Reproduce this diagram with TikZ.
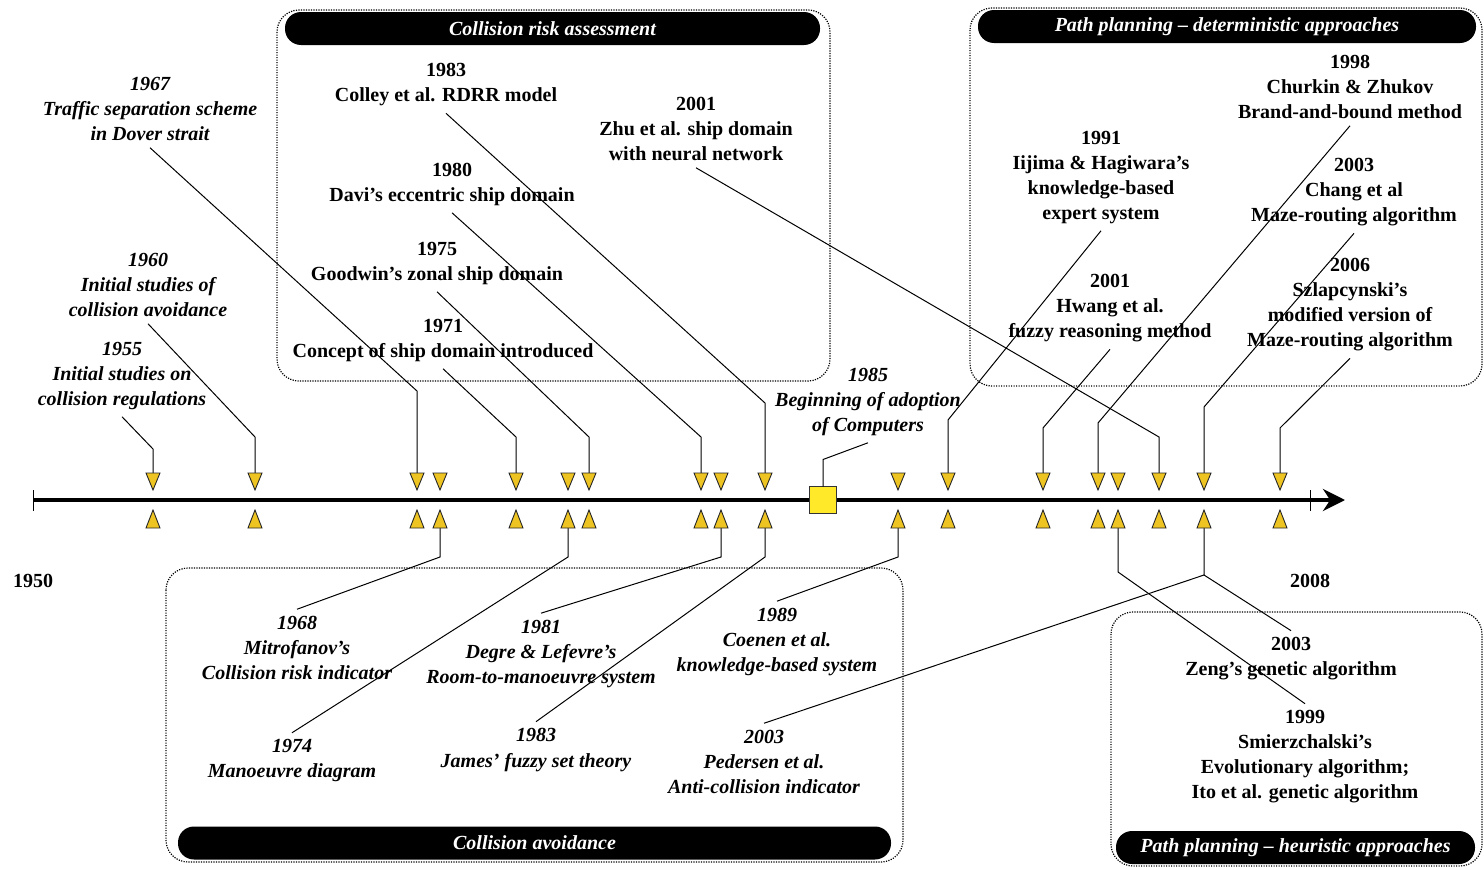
\documentclass[tikz,border=0pt]{standalone}
\usepackage{fontspec}
\setmainfont{Liberation Serif}[Ligatures={ResetAll,Common}]
\usepackage{tikz}
\usetikzlibrary{arrows.meta,positioning,calc}

\definecolor{markgold}{RGB}{238,196,34}
\definecolor{compyel}{RGB}{255,233,40}

\tikzset{
  txt/.style={align=center,font=\bfseries\fontsize{20}{25}\selectfont,inner sep=2pt,outer sep=5pt},
  itxt/.style={txt,font=\bfseries\itshape\fontsize{20}{25}\selectfont},
  hdr/.style={fill=black,text=white,rounded corners=16pt,minimum height=33pt,inner sep=0pt,
      font=\bfseries\itshape\fontsize{20}{24}\selectfont},
  grp/.style={dash pattern=on 1.2pt off 1.3pt,line width=1.2pt,rounded corners=22pt},
  conn/.style={line width=1pt},
  mk/.style={draw=black!85,fill=markgold,line width=0.9pt,line join=miter},
  sq/.style={draw=black!80,fill=compyel,line width=1pt,minimum size=27pt,inner sep=0pt,outer sep=0pt}
}

\begin{document}
\begin{tikzpicture}[x=1pt,y=-1pt]

\useasboundingbox (0,0) rectangle (1484,870);

% groups
\draw[grp] (277,10) rectangle (830,381);
\draw[grp] (970,8) rectangle (1482,386);
\draw[grp] (166,568) rectangle (903,862);
\draw[grp] (1111,612) rectangle (1482,866);

\node[hdr,minimum width=535pt] (hCRA) at (552.5,28.5) {Collision risk assessment};
\node[hdr,minimum width=498pt] (hPPD) at (1227,26.5) {Path planning – deterministic approaches};
\node[hdr,minimum width=713pt] (hCA) at (534.5,843) {Collision avoidance};
\node[hdr,minimum width=359pt] (hPPH) at (1295.5,847.5) {Path planning – heuristic approaches};

% time axis
\coordinate (axL) at (33,500);
\coordinate (axR) at (1345,500);
\draw[line width=4pt,-{Stealth[length=22pt,width=22pt]}] (axL) -- (axR);
\draw[line width=1pt] (33,490) -- (33,511);
\draw[line width=1pt] (1310,490) -- (1310,511);
\node[txt] (y1950) at (33,581) {1950};
\node[txt] (y2008) at (1310,581) {2008};

% labels above
\node[itxt] (l1967) at (150,109) {1967\\Traffic separation scheme\\in Dover strait};
\node[itxt] (l1960) at (148,285) {1960\\Initial studies of\\collision avoidance};
\node[itxt] (l1955) at (122,376) {1955\\Initial studies on\\collision regulations};
\node[txt] (l1983c) at (446,85) {1983\\Colley et al. RDRR model};
\node[txt] (l1980) at (452,184.5) {1980\\Davi’s eccentric ship domain};
\node[txt] (l1975) at (437,263.5) {1975\\Goodwin's zonal ship domain};
\node[txt] (l1971) at (443,340.5) {1971\\Concept of ship domain introduced};
\node[txt] (l2001z) at (696,129) {2001\\Zhu et al. ship domain\\with neural network};
\node[itxt] (l1985) at (868,402) {1985\\Beginning of adoption\\of Computers};
\node[txt] (l1991) at (1101,177.5) {1991\\Iijima \& Hagiwara’s\\knowledge-based\\expert system};
\node[txt] (l2001h) at (1110,308.5) {2001\\Hwang et al.\\fuzzy reasoning method};
\node[txt] (l1998) at (1350,87) {1998\\Churkin \& Zhukov\\Brand-and-bound method};
\node[txt] (l2003c) at (1354,192.5) {2003\\Chang et al\\Maze-routing algorithm};
\node[txt] (l2006) at (1350,305) {2006\\Szlapcynski’s\\modified version of\\Maze-routing algorithm};

% labels below
\node[itxt] (l1968) at (297,648) {1968\\Mitrofanov’s\\Collision risk indicator};
\node[itxt] (l1974) at (292,761) {1974\\Manoeuvre diagram};
\node[itxt] (l1981) at (541,654) {1981\\Degre \& Lefevre’s\\Room-to-manoeuvre system};
\node[itxt] (l1983j) at (536,750) {1983\\James’ fuzzy set theory};
\node[itxt] (l1989) at (777,642) {1989\\Coenen et al.\\knowledge-based system};
\node[itxt] (l2003p) at (764,762) {2003\\Pedersen et al.\\Anti-collision indicator};
\node[txt] (l2003z) at (1291,659) {2003\\Zeng’s genetic algorithm};
\node[txt] (l1999) at (1305,757) {1999\\Smierzchalski’s\\Evolutionary algorithm;\\Ito et al. genetic algorithm};

% markers
\foreach \x in {153,255,417,440,516,568,589,701,721,765,898,948,1043,1098,1118,1159,1204,1280}{
  \coordinate (t\x) at (\x,473);
  \coordinate (b\x) at (\x,528);
}

\draw[conn] (t153) -- ++(0,-24) -- (l1955.south);
\draw[conn] (t255) -- ++(0,-36) -- (l1960.south);
\draw[conn] (t417) -- ++(0,-82) -- (l1967.south);
\draw[conn] (t516) -- ++(0,-36) -- (l1971.south);
\draw[conn] (t589) -- ++(0,-36) -- (l1975.south);
\draw[conn] (t701) -- ++(0,-36) -- (l1980.south);
\draw[conn] (t765) -- ++(0,-70) -- (l1983c.south);
\draw[conn] (t948) -- ++(0,-53) -- (l1991.south);
\draw[conn] (t1043) -- ++(0,-45) -- (l2001h.south);
\draw[conn] (t1098) -- ++(0,-50) -- (l1998.south);
\draw[conn] (t1159) -- ++(0,-36) -- (l2001z.south);
\draw[conn] (t1204) -- ++(0,-66) -- (l2003c.south);
\draw[conn] (t1280) -- ++(0,-45) -- (l2006.south);

\draw[conn] (b440) -- ++(0,29) -- (l1968.north);
\draw[conn] (b568) -- ++(0,29) -- (l1974.north);
\draw[conn] (b721) -- ++(0,29) -- (l1981.north);
\draw[conn] (b765) -- ++(0,29) -- (l1983j.north);
\draw[conn] (b898) -- ++(0,29) -- (l1989.north);
\draw[conn] (b1118) -- ++(0,44) -- (l1999.north);
\draw[conn] (b1204) -- ++(0,47) coordinate (fork) -- (l2003p.north);
\draw[conn] (fork) -- (l2003z.north);

\foreach \x in {153,255,417,440,516,568,589,701,721,765,898,948,1043,1098,1118,1159,1204,1280}{
  \draw[mk] (\x-7,473) -- (\x+7,473) -- (\x,490) -- cycle;
  \draw[mk] (\x-7,528) -- (\x+7,528) -- (\x,510) -- cycle;
}

\node[sq] (comp) at (823,500) {};
\draw[conn] (comp.north) -- ++(0,-27) -- (l1985.south);

\end{tikzpicture}
\end{document}
